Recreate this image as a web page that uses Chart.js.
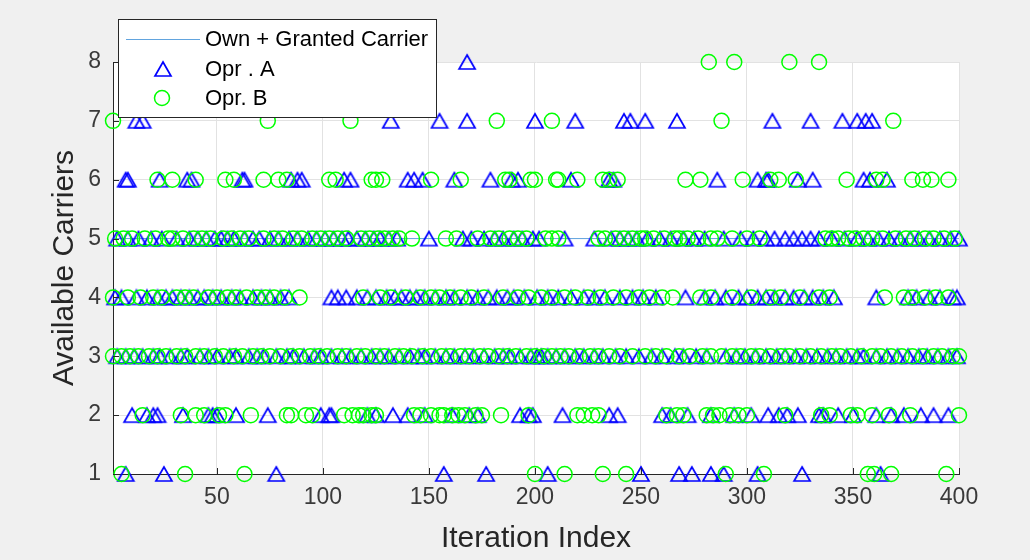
<!DOCTYPE html>
<html>
<head>
<meta charset="utf-8">
<script src="https://cdn.jsdelivr.net/npm/chart.js"></script>
<style>
html,body{margin:0;padding:0;background:#f0f0f0;}
#wrap{width:1030px;height:560px;position:relative;}
</style>
</head>
<body>
<div id="wrap"><canvas id="c" width="1030" height="560"></canvas></div>
<script>
// ---------- tick labels ----------
const xTicks = [50, 100, 150, 200, 250, 300, 350, 400];
const yTicks = [1, 2, 3, 4, 5, 6, 7, 8];

// ---------- Own + Granted Carrier line ----------
const ownX = [1, 400];
const ownY = [5, 5];

// ---------- Opr. A (triangles): iteration indices per carrier level ----------
const oprA_1 = [7, 25, 78, 157, 177, 206, 250, 268, 274, 283, 289, 305, 326, 363];
const oprA_2 = [10, 17, 20, 22, 34, 46, 48, 50, 59, 74, 99, 103, 104, 121, 125, 133, 140, 148, 161, 169, 173, 193, 197, 199, 213, 235, 239, 260, 264, 272, 283, 294, 302, 310, 315, 319, 324, 334, 336, 343, 350, 361, 368, 374, 382, 388, 395];
const oprA_3 = [3, 7, 11, 15, 20, 23, 28, 33, 36, 42, 46, 50, 56, 59, 65, 69, 72, 78, 83, 86, 91, 96, 99, 104, 109, 113, 118, 123, 127, 131, 136, 141, 145, 148, 153, 158, 162, 167, 171, 176, 181, 185, 188, 193, 198, 201, 203, 206, 210, 214, 219, 223, 228, 232, 238, 243, 249, 255, 260, 266, 270, 276, 281, 290, 295, 299, 304, 309, 314, 318, 323, 328, 333, 338, 342, 347, 352, 355, 361, 366, 371, 376, 381, 385, 390, 395, 399];
const oprA_4 = [2, 5, 12, 17, 22, 26, 29, 33, 37, 41, 44, 48, 52, 57, 61, 67, 71, 75, 80, 84, 104, 107, 111, 116, 121, 125, 130, 134, 137, 141, 144, 148, 153, 158, 162, 168, 173, 178, 182, 187, 190, 195, 201, 206, 211, 217, 223, 228, 233, 240, 246, 251, 257, 271, 280, 285, 290, 296, 300, 305, 309, 313, 318, 322, 327, 331, 336, 341, 361, 376, 380, 386, 391, 397, 399];
const oprA_5 = [3, 8, 13, 19, 24, 31, 37, 41, 45, 49, 52, 55, 58, 63, 67, 70, 75, 79, 84, 88, 93, 97, 101, 105, 109, 112, 116, 120, 124, 127, 131, 135, 150, 166, 170, 176, 181, 185, 190, 194, 199, 202, 214, 228, 236, 240, 244, 248, 253, 259, 264, 270, 275, 280, 289, 297, 303, 309, 313, 318, 322, 326, 330, 334, 340, 346, 352, 357, 362, 367, 372, 377, 381, 386, 391, 396, 400];
const oprA_6 = [7, 8, 23, 36, 38, 62, 63, 85, 88, 90, 110, 113, 140, 143, 147, 162, 179, 189, 192, 217, 235, 237, 286, 305, 309, 310, 324, 331, 355, 358, 366];
const oprA_7 = [12, 15, 132, 155, 168, 200, 219, 242, 245, 252, 267, 312, 330, 345, 352, 356, 359];
const oprA_8 = [168];

// ---------- Opr. B (circles): iteration indices per carrier level ----------
const oprB_1 = [5, 35, 63, 200, 214, 232, 243, 290, 308, 357, 360, 368, 394];
const oprB_2 = [15, 33, 40, 44, 51, 54, 66, 83, 85, 92, 95, 110, 114, 117, 119, 123, 125, 143, 146, 151, 155, 157, 161, 164, 167, 172, 175, 184, 197, 220, 223, 227, 230, 262, 267, 270, 281, 284, 287, 292, 296, 300, 318, 335, 339, 349, 352, 359, 367, 377, 400];
const oprB_3 = [1, 5, 9, 13, 18, 22, 26, 31, 35, 40, 44, 49, 53, 58, 62, 67, 71, 75, 80, 85, 89, 94, 98, 102, 107, 111, 116, 120, 125, 129, 134, 138, 142, 147, 151, 156, 160, 165, 169, 174, 178, 183, 187, 191, 196, 200, 204, 208, 212, 216, 221, 226, 230, 235, 240, 246, 252, 257, 262, 268, 273, 279, 283, 288, 293, 297, 302, 306, 311, 316, 320, 325, 330, 335, 340, 344, 349, 354, 359, 363, 368, 373, 378, 383, 388, 392, 397, 400];
const oprB_4 = [1, 8, 14, 20, 24, 31, 35, 39, 46, 50, 55, 59, 64, 69, 73, 77, 82, 89, 119, 127, 132, 139, 146, 151, 155, 160, 165, 170, 176, 185, 192, 197, 203, 208, 214, 219, 225, 231, 237, 243, 249, 254, 260, 265, 278, 283, 293, 302, 311, 316, 325, 334, 339, 365, 374, 378, 384, 389, 395];
const oprB_5 = [2, 6, 10, 16, 21, 27, 29, 34, 39, 43, 47, 53, 57, 61, 65, 72, 77, 81, 86, 90, 95, 99, 103, 107, 111, 118, 122, 126, 129, 133, 136, 142, 158, 163, 173, 179, 183, 188, 192, 196, 205, 208, 211, 230, 233, 238, 242, 246, 250, 252, 256, 261, 266, 268, 272, 277, 283, 286, 293, 300, 306, 337, 340, 343, 348, 351, 355, 359, 364, 370, 375, 379, 384, 388, 393, 398];
const oprB_6 = [22, 29, 40, 54, 58, 72, 79, 83, 103, 106, 123, 125, 128, 151, 165, 186, 188, 198, 200, 210, 211, 220, 232, 235, 239, 271, 278, 298, 311, 315, 323, 347, 361, 364, 378, 383, 387, 395];
const oprB_7 = [1, 74, 113, 182, 208, 288, 369];
const oprB_8 = [282, 294, 320, 334];

const labelOwn = 'Own + Granted Carrier';
const labelA = 'Opr . A';
const labelB = 'Opr. B';

// ---------- build point lists ----------
const oprALevels = [oprA_1, oprA_2, oprA_3, oprA_4, oprA_5, oprA_6, oprA_7, oprA_8];
const oprBLevels = [oprB_1, oprB_2, oprB_3, oprB_4, oprB_5, oprB_6, oprB_7, oprB_8];
function toPoints(levelLists) {
  const pts = [];
  levelLists.forEach((xs, i) => xs.forEach(x => pts.push({x: x, y: yTicks[i]})));
  return pts;
}
const ptsA = toPoints(oprALevels);
const ptsB = toPoints(oprBLevels);
const ptsOwn = ownX.map((x, i) => ({x: x, y: ownY[i]}));

// ---------- marker images ----------
const BLUE = '#0000ff', GREEN = '#00ff00', LINEC = '#62a4de';
const tri = document.createElement('canvas');
tri.width = 20; tri.height = 18;
(function () {
  const t = tri.getContext('2d');
  t.strokeStyle = BLUE; t.lineWidth = 1.7; t.lineJoin = 'miter';
  t.beginPath(); t.moveTo(10, 2); t.lineTo(18, 16); t.lineTo(2, 16); t.closePath(); t.stroke();
})();

const FONT = '"Liberation Sans", Arial, Helvetica, sans-serif';
const AXC = '#262626';

const plotBg = {
  id: 'plotBg',
  beforeDraw(chart) {
    const {ctx, chartArea: a} = chart;
    ctx.save(); ctx.fillStyle = '#ffffff';
    ctx.fillRect(a.left, a.top, a.right - a.left, a.bottom - a.top);
    ctx.restore();
  }
};

const extras = {
  id: 'extras',
  afterDraw(chart) {
    const {ctx, chartArea: a, scales} = chart;
    ctx.save();
    // inward tick marks
    ctx.strokeStyle = AXC; ctx.lineWidth = 1;
    ctx.beginPath();
    xTicks.forEach(v => {
      const px = Math.round(scales.x.getPixelForValue(v)) + 0.5;
      ctx.moveTo(px, a.bottom); ctx.lineTo(px, a.bottom - 6);
    });
    yTicks.forEach(v => {
      const py = Math.round(scales.y.getPixelForValue(v)) + 0.5;
      ctx.moveTo(a.left, py); ctx.lineTo(a.left + 6, py);
    });
    ctx.stroke();

    // legend box
    const L = 118, T = 19, W = 318, H = 98;
    ctx.fillStyle = '#ffffff';
    ctx.fillRect(L, T, W, H);
    ctx.strokeStyle = AXC; ctx.lineWidth = 1;
    ctx.strokeRect(L + 0.5, T + 0.5, W, H);
    // line sample
    ctx.strokeStyle = LINEC; ctx.lineWidth = 1;
    ctx.beginPath(); ctx.moveTo(126, 39.5); ctx.lineTo(200, 39.5); ctx.stroke();
    // triangle sample
    ctx.drawImage(tri, 163 - 10, 69 - 9);
    // circle sample
    ctx.strokeStyle = GREEN; ctx.lineWidth = 1.5;
    ctx.beginPath(); ctx.arc(162, 98, 7.5, 0, Math.PI * 2); ctx.stroke();
    // texts
    const ds = chart.data.datasets;
    ctx.fillStyle = '#000000';
    ctx.font = '22px ' + FONT;
    ctx.textBaseline = 'middle'; ctx.textAlign = 'left';
    ctx.fillText(ds[0].label, 205, 40);
    ctx.fillText(ds[1].label, 205, 70);
    ctx.fillText(ds[2].label, 205, 99);
    ctx.restore();
  }
};

new Chart(document.getElementById('c'), {
  type: 'scatter',
  data: {
    datasets: [
      {label: labelOwn, type: 'line', data: ptsOwn, borderColor: LINEC, borderWidth: 1,
       pointRadius: 0, fill: false, order: 3, clip: false},
      {label: labelA, data: ptsA, pointStyle: tri, pointRadius: 9, borderColor: BLUE,
       backgroundColor: 'rgba(0,0,0,0)', order: 2, clip: false},
      {label: labelB, data: ptsB, pointStyle: 'circle', pointRadius: 7.5, borderWidth: 1.5,
       borderColor: GREEN, backgroundColor: 'rgba(0,0,0,0)', order: 1, clip: false}
    ]
  },
  options: {
    responsive: false,
    animation: false,
    events: [],
    layout: {padding: {left: 0, top: 62, right: 71, bottom: 0}},
    plugins: {legend: {display: false}, tooltip: {enabled: false}},
    scales: {
      x: {
        type: 'linear', min: 1, max: 400,
        afterBuildTicks: s => { s.ticks = xTicks.map(v => ({value: v})); },
        afterFit: s => { s.height = 86; },
        grid: {color: '#e2e2e2', drawTicks: false, lineWidth: 1},
        border: {display: true, color: AXC, width: 1},
        ticks: {font: {family: FONT, size: 23}, color: '#3a3a3a', padding: 10, maxRotation: 0},
        title: {display: true, text: 'Iteration Index', color: AXC,
                font: {family: FONT, size: 30}, padding: {top: 0, bottom: 3}}
      },
      y: {
        type: 'linear', min: 1, max: 8,
        afterBuildTicks: s => { s.ticks = yTicks.map(v => ({value: v})); },
        afterFit: s => { s.width = 113; },
        grid: {color: '#e2e2e2', drawTicks: false, lineWidth: 1},
        border: {display: true, color: AXC, width: 1},
        ticks: {font: {family: FONT, size: 23}, color: '#3a3a3a', padding: 12},
        title: {display: true, text: 'Available Carriers', color: AXC,
                font: {family: FONT, size: 30}, padding: {top: 47, bottom: 0}}
      }
    }
  },
  plugins: [plotBg, extras]
});
</script>
</body>
</html>
